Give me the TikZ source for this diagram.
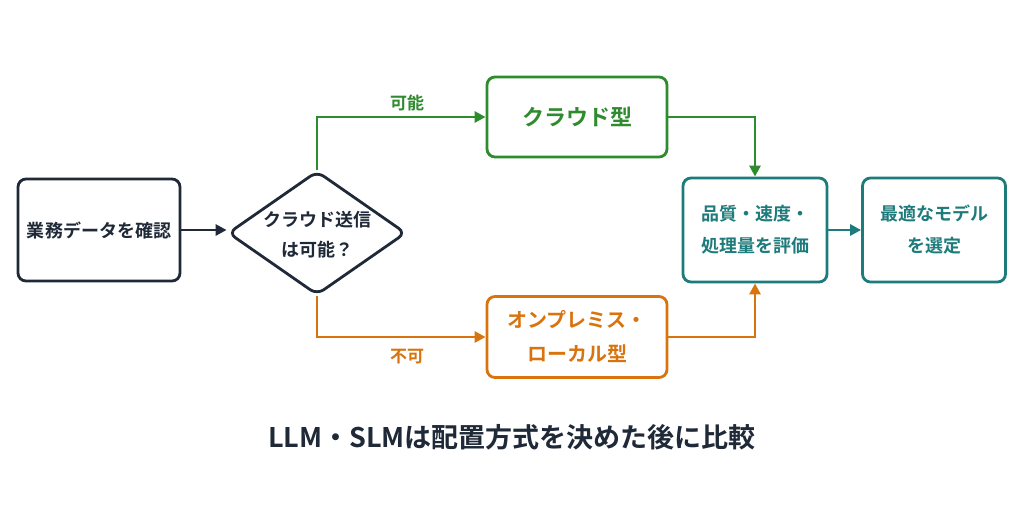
\documentclass[tikz,border=0pt]{standalone}
\usepackage{fontspec}
\setmainfont{Noto Sans CJK JP}[BoldFont={* Bold}]
\usetikzlibrary{shapes.geometric,arrows.meta}
\definecolor{navy}{HTML}{1F2937}
\definecolor{grn}{HTML}{2E8B2E}
\definecolor{org}{HTML}{D9730D}
\definecolor{teal}{HTML}{1E7B7B}
\begin{document}
\begin{tikzpicture}[x=1pt,y=-1pt,
  box/.style={draw,line width=2.8pt,rounded corners=8pt,fill=white,align=center,font=\bfseries\fontsize{18}{24}\selectfont,inner sep=0pt},
  arr/.style={line width=2.8pt,-{Triangle[length=11pt,width=11pt]}},
  lab/.style={font=\bfseries\fontsize{17}{20}\selectfont}]
\fill[white] (0,0) rectangle (1024,512);
\useasboundingbox (0,0) rectangle (1024,512);
\node[box,draw=navy,text=navy,minimum width=162pt,minimum height=102pt] (a) at (99,230) {業務データを確認};
\node[draw=navy,line width=2.8pt,diamond,aspect=1.45,rounded corners=8pt,fill=white,minimum width=178pt,minimum height=124pt,inner sep=0pt] (d) at (317,233) {};
\node[align=center,font=\bfseries\fontsize{18}{30}\selectfont,text=navy] at (317,235) {クラウド送信\\は可能？};
\node[box,draw=grn,text=grn,minimum width=180pt,minimum height=80pt,font=\bfseries\fontsize{22}{26}\selectfont] (c) at (577,117) {クラウド型};
\node[box,draw=org,text=org,minimum width=180pt,minimum height=81pt,font=\bfseries\fontsize{20}{34}\selectfont] (o) at (577,337) {オンプレミス・\\ローカル型};
\node[box,draw=teal,text=teal,minimum width=144pt,minimum height=104pt,font=\bfseries\fontsize{18}{32}\selectfont] (e) at (755,230) {品質・速度・\\処理量を評価};
\node[box,draw=teal,text=teal,minimum width=143pt,minimum height=104pt,font=\bfseries\fontsize{18}{32}\selectfont] (f) at (934,230) {最適なモデル\\を選定};
\draw[arr,navy] (a.east) -- (a.east -| d.west);
\draw[arr,grn] (d.north) |- (c.west);
\draw[arr,org] (d.south) |- (o.west);
\draw[arr,grn] (c.east) -| (e.north);
\draw[arr,org] (o.east) -| (e.south);
\draw[arr,teal] (e.east) -- (f.west);
\node[lab,text=grn] at (407,103) {可能};
\node[lab,text=org] at (407,357) {不可};
\node[font=\bfseries\fontsize{27}{32}\selectfont,text=navy] at (512,437) {LLM・SLMは配置方式を決めた後に比較};
\end{tikzpicture}
\end{document}
